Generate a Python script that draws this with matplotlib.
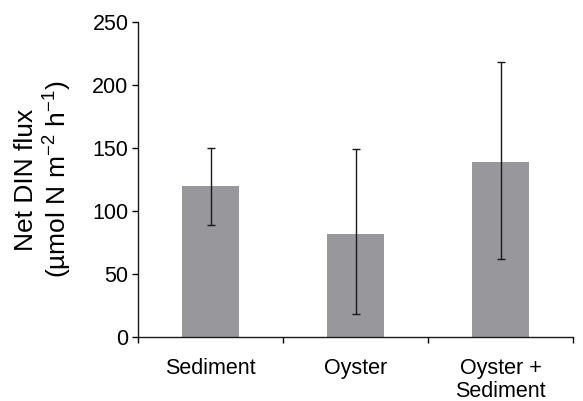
import matplotlib
matplotlib.use('Agg')
import matplotlib.pyplot as plt
import numpy as np

plt.rcParams['font.family'] = ['Liberation Sans', 'DejaVu Sans']
plt.rcParams['mathtext.fontset'] = 'custom'
plt.rcParams['mathtext.rm'] = 'Liberation Sans'
plt.rcParams['mathtext.it'] = 'Liberation Sans:italic'

# данные
groups = ['Sediment', 'Oyster', 'Oyster +\nSediment']
flux = [120, 82, 139]
err_low = [89, 18, 62]
err_high = [150, 149, 218]

x = np.arange(len(groups))
yerr = [np.array(flux) - np.array(err_low), np.array(err_high) - np.array(flux)]

fig = plt.figure(figsize=(5.83, 4.01), dpi=100)
ax = fig.add_axes([0.237, 0.160, 0.746, 0.785])

ax.bar(x, flux, width=0.39, color='#98979b', zorder=2)
ax.errorbar(x, flux, yerr=yerr, fmt='none', ecolor='#1a1a1a', elinewidth=1,
            capsize=3, capthick=1, zorder=3)

ax.set_xlim(-0.5, 2.5)
ax.set_ylim(0, 250)
ax.set_yticks(np.arange(0, 251, 50))
ax.set_xticks(x)
ax.set_xticklabels(groups, fontsize=15.5, linespacing=1.12, va='top')
ax.set_xticks(np.arange(-0.5, 2.6, 1), minor=True)
ax.tick_params(axis='x', which='major', length=0, pad=15)
ax.tick_params(axis='x', which='minor', length=4, width=1, direction='out')
ax.tick_params(axis='y', length=4, width=1, labelsize=15.5, pad=3)

for s in ['top', 'right']:
    ax.spines[s].set_visible(False)
for s in ['left', 'bottom']:
    ax.spines[s].set_linewidth(1)
    ax.spines[s].set_color('#1a1a1a')

ax.set_ylabel('Net DIN flux\n(µmol N m$^{-2}$ h$^{-1}$)', fontsize=19,
              linespacing=1.15, labelpad=13)

fig.savefig('out.png', dpi=100)
plt.close()
